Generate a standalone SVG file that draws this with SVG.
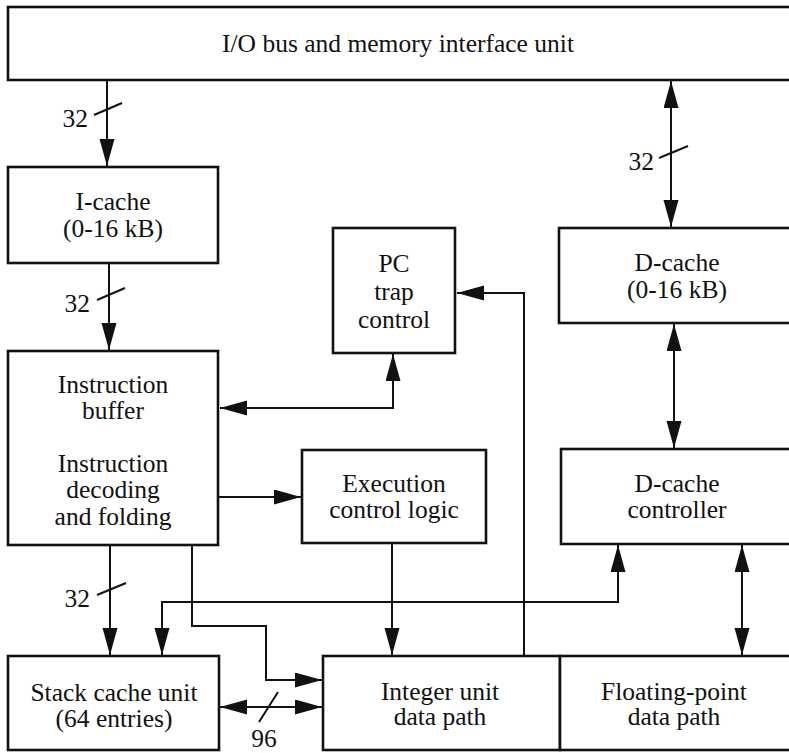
<svg xmlns="http://www.w3.org/2000/svg" width="789" height="753" viewBox="0 0 789 753">
  <style>
    .box { fill: #ffffff; stroke: #111111; stroke-width: 2.6; }
    .lbl { font-family: "Liberation Serif", "Times New Roman", serif; font-size: 25.5px; fill: #111111; text-anchor: middle; }
    .num { font-family: "Liberation Serif", "Times New Roman", serif; font-size: 25.5px; fill: #111111; }
    .wire { fill: none; stroke: #111111; stroke-width: 2; }
    .tick { fill: none; stroke: #111111; stroke-width: 2; }
  </style>
  <defs>
    <marker id="arrow" markerUnits="userSpaceOnUse" markerWidth="28" markerHeight="16" refX="27" refY="7.5" orient="auto-start-reverse" viewBox="0 0 28 16">
      <path d="M0,0 L27,7.5 L0,15 z" fill="#111111"/>
    </marker>
  </defs>
  <rect width="789" height="753" fill="#ffffff"/>

  <!-- Connectors -->
  <g id="connectors">
    <!-- I/O unit to I-cache -->
    <line class="wire" x1="107" y1="81" x2="107" y2="166" marker-end="url(#arrow)"/>
    <line class="tick" x1="94" y1="115" x2="122" y2="103"/>
    <text class="num" x="88" y="127" text-anchor="end">32</text>

    <!-- I/O unit to D-cache -->
    <line class="wire" x1="671" y1="81" x2="671" y2="227" marker-start="url(#arrow)" marker-end="url(#arrow)"/>
    <line class="tick" x1="659" y1="158" x2="688" y2="146"/>
    <text class="num" x="654" y="170" text-anchor="end">32</text>

    <!-- I-cache to instruction buffer -->
    <line class="wire" x1="109" y1="264" x2="109" y2="350" marker-end="url(#arrow)"/>
    <line class="tick" x1="97" y1="300" x2="125" y2="288"/>
    <text class="num" x="90" y="312" text-anchor="end">32</text>

    <!-- PC / trap control and instruction buffer -->
    <path class="wire" d="M393,354 V408 H220" marker-start="url(#arrow)" marker-end="url(#arrow)"/>

    <!-- Integer unit back to PC / trap control -->
    <path class="wire" d="M524,656 V293 H457" marker-end="url(#arrow)"/>

    <!-- D-cache and D-cache controller -->
    <line class="wire" x1="674" y1="324" x2="674" y2="448" marker-start="url(#arrow)" marker-end="url(#arrow)"/>

    <!-- Decoding to execution control -->
    <line class="wire" x1="219" y1="497" x2="301" y2="497" marker-end="url(#arrow)"/>

    <!-- Decoding to stack cache -->
    <line class="wire" x1="110" y1="546" x2="110" y2="655" marker-end="url(#arrow)"/>
    <line class="tick" x1="97" y1="595" x2="126" y2="583"/>
    <text class="num" x="90" y="607" text-anchor="end">32</text>

    <!-- Decoding to integer unit -->
    <path class="wire" d="M192,546 V626 H266 V680 H322" marker-end="url(#arrow)"/>

    <!-- D-cache controller and stack cache -->
    <path class="wire" d="M618,545 V602 H162 V655" marker-start="url(#arrow)" marker-end="url(#arrow)"/>

    <!-- Execution control to integer unit -->
    <line class="wire" x1="392" y1="544" x2="392" y2="655" marker-end="url(#arrow)"/>

    <!-- D-cache controller and floating-point unit -->
    <line class="wire" x1="742" y1="545" x2="742" y2="655" marker-start="url(#arrow)" marker-end="url(#arrow)"/>

    <!-- Stack cache and integer unit -->
    <line class="wire" x1="220" y1="707" x2="322" y2="707" marker-start="url(#arrow)" marker-end="url(#arrow)"/>
    <line class="tick" x1="259" y1="722" x2="278" y2="692"/>
    <text class="num" x="264" y="747" text-anchor="middle">96</text>
  </g>

  <!-- Nodes -->
  <g id="io-unit">
    <rect class="box" x="8" y="7" width="800" height="73"/>
    <text class="lbl" x="398" y="52">I/O bus and memory interface unit</text>
  </g>

  <g id="i-cache">
    <rect class="box" x="8" y="167" width="210" height="96"/>
    <text class="lbl" x="113" y="210">I-cache</text>
    <text class="lbl" x="113" y="237">(0-16 kB)</text>
  </g>

  <g id="pc-trap">
    <rect class="box" x="333" y="228" width="122" height="125"/>
    <text class="lbl" x="394" y="272">PC</text>
    <text class="lbl" x="394" y="300">trap</text>
    <text class="lbl" x="394" y="328">control</text>
  </g>

  <g id="d-cache">
    <rect class="box" x="559" y="228" width="240" height="95"/>
    <text class="lbl" x="677" y="271">D-cache</text>
    <text class="lbl" x="677" y="298">(0-16 kB)</text>
  </g>

  <g id="instruction-unit">
    <rect class="box" x="8" y="351" width="210" height="194"/>
    <text class="lbl" x="113" y="393">Instruction</text>
    <text class="lbl" x="113" y="419">buffer</text>
    <text class="lbl" x="113" y="472">Instruction</text>
    <text class="lbl" x="113" y="498">decoding</text>
    <text class="lbl" x="113" y="525">and folding</text>
  </g>

  <g id="execution-control">
    <rect class="box" x="302" y="450" width="184" height="93"/>
    <text class="lbl" x="394" y="492">Execution</text>
    <text class="lbl" x="394" y="518">control logic</text>
  </g>

  <g id="d-cache-controller">
    <rect class="box" x="561" y="449" width="240" height="95"/>
    <text class="lbl" x="677" y="492">D-cache</text>
    <text class="lbl" x="677" y="518">controller</text>
  </g>

  <g id="stack-cache">
    <rect class="box" x="8" y="656" width="211" height="94"/>
    <text class="lbl" x="114" y="701">Stack cache unit</text>
    <text class="lbl" x="114" y="727">(64 entries)</text>
  </g>

  <g id="integer-unit">
    <rect class="box" x="323" y="656" width="237" height="94"/>
    <text class="lbl" x="440" y="700">Integer unit</text>
    <text class="lbl" x="440" y="725">data path</text>
  </g>

  <g id="fp-unit">
    <rect class="box" x="560" y="656" width="240" height="94"/>
    <text class="lbl" x="674" y="700">Floating-point</text>
    <text class="lbl" x="674" y="725">data path</text>
  </g>
</svg>
